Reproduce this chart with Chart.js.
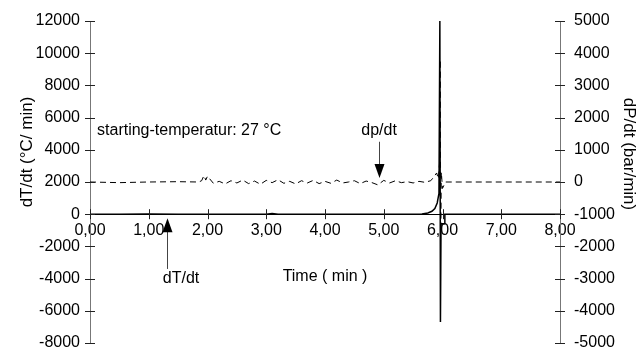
<!DOCTYPE html>
<html lang="de">
<head>
  <meta charset="UTF-8" />
  <title>dT/dt und dP/dt</title>
  <script src="https://cdn.jsdelivr.net/npm/chart.js"></script>
  <style>
    body { margin: 0; background: #fff; }
    canvas { display: block; }
  </style>
</head>
<body>
  <canvas id="chart" width="639" height="347"></canvas>

  <script>
    // Zeitachse in Minuten
    const timeT = [0, 0.5, 1.0, 1.5, 2.0, 2.5, 3.0, 3.1, 3.2, 3.5, 4.0, 4.5, 5.0, 5.5, 5.65, 5.75, 5.82, 5.87, 5.91, 5.94, 5.955, 5.965, 5.975, 5.985, 6.03, 6.04, 6.5, 7.0, 8.0];
    const dTdt  = [0, 0, 20, 0, 0, 0, 0, 50, 0, 0, 0, 0, 0, 0, 20, 80, 180, 350, 700, 1300, 12000, -6700, -600, -600, -600, 0, 0, 0, 0];

    const timeP = [0, 0.5, 1.0, 1.5, 1.85, 1.9, 1.94, 1.97, 2.0, 2.1, 2.2, 2.3, 2.4, 2.5, 2.6, 2.7, 2.8, 2.9, 3.0, 3.1, 3.2, 3.3, 3.4, 3.5, 3.6, 3.7, 3.8, 3.9, 4.0, 4.1, 4.2, 4.3, 4.4, 4.5, 4.6, 4.7, 4.8, 4.9, 5.0, 5.1, 5.2, 5.3, 5.4, 5.5, 5.6, 5.7, 5.8, 5.85, 5.9, 5.93, 5.95, 5.96, 5.97, 5.98, 6.0, 6.05, 6.2, 7.0, 8.0];
    const dPdt  = [0, -20, 0, 10, 0, 40, 200, 60, 180, -40, 20, -60, 40, -30, 60, -50, 30, -70, 50, -20, 70, -40, 20, -60, 40, -30, 50, -50, 20, -40, 60, -30, 0, 40, -50, 30, -20, -90, 50, -30, 40, -20, 10, -30, 20, -10, 40, 150, 280, 100, 600, 3800, -1500, 300, -200, 0, 0, 0, 0];

    const xTicks  = [0, 1, 2, 3, 4, 5, 6, 7, 8];
    const yTicks  = [-8000, -6000, -4000, -2000, 0, 2000, 4000, 6000, 8000, 10000, 12000];
    const y2Ticks = [-5000, -4000, -3000, -2000, -1000, 0, 1000, 2000, 3000, 4000, 5000];

    // Beschriftungen im Diagramm (Position in Datenkoordinaten)
    const notes = [
      { text: 'starting-temperatur: 27 °C', x: 0.12, y: 5200, align: 'left' },
      { text: 'dp/dt', x: 4.92, y: 5200, align: 'center' },
      { text: 'dT/dt', x: 1.55, y: -4000, align: 'center' },
      { text: 'Time ( min )', x: 4.0, y: -3900, align: 'center' }
    ];
    const arrows = [
      { x: 4.92, from: 4500, to: 2250 },   // nach unten auf dp/dt
      { x: 1.31, from: -3400, to: -250 }   // nach oben auf dT/dt
    ];

    const FONT = "'Liberation Sans', Arial, sans-serif";

    const fmtX = v => v.toFixed(2).replace('.', ',');

    const extras = {
      id: 'extras',
      afterDraw(chart) {
        const c = chart.ctx;
        const sx = chart.scales.x, sy = chart.scales.y, sy2 = chart.scales.y2;
        c.save();
        c.strokeStyle = '#222';
        c.lineWidth = 1;
        // kreuzende Teilstriche
        c.beginPath();
        sy.ticks.forEach((t, i) => {
          const p = Math.round(sy.getPixelForTick(i)) + 0.5;
          c.moveTo(sy.right - 5, p); c.lineTo(sy.right + 5, p);
        });
        sy2.ticks.forEach((t, i) => {
          const p = Math.round(sy2.getPixelForTick(i)) + 0.5;
          c.moveTo(sy2.left - 5, p); c.lineTo(sy2.left + 5, p);
        });
        const y0 = sy.getPixelForValue(0);
        sx.ticks.forEach((t, i) => {
          const p = Math.round(sx.getPixelForTick(i)) + 0.5;
          c.moveTo(p, y0 - 5); c.lineTo(p, y0 + 5);
        });
        c.stroke();

        // Texte
        c.fillStyle = '#000';
        c.font = '16px ' + FONT;
        c.textBaseline = 'middle';
        notes.forEach(n => {
          c.textAlign = n.align;
          c.fillText(n.text, sx.getPixelForValue(n.x), sy.getPixelForValue(n.y));
        });

        // Pfeile
        arrows.forEach(a => {
          const px = Math.round(sx.getPixelForValue(a.x)) + 0.5;
          const p1 = sy.getPixelForValue(a.from), p2 = sy.getPixelForValue(a.to);
          const dir = p2 > p1 ? 1 : -1;
          c.strokeStyle = '#444';
          c.beginPath(); c.moveTo(px, p1); c.lineTo(px, p2 - dir * 12); c.stroke();
          c.fillStyle = '#000';
          c.beginPath();
          c.moveTo(px, p2);
          c.lineTo(px - 5, p2 - dir * 14);
          c.lineTo(px + 5, p2 - dir * 14);
          c.closePath(); c.fill();
        });

        // Achsentitel
        c.fillStyle = '#000';
        c.font = '17px ' + FONT;
        c.textAlign = 'center';
        c.save();
        c.translate(27, 152);
        c.rotate(-Math.PI / 2);
        c.fillText('dT/dt (°C/ min)', 0, 0);
        c.restore();
        c.save();
        c.translate(629, 154);
        c.rotate(Math.PI / 2);
        c.fillText('dP/dt (bar/min)', 0, 0);
        c.restore();
        c.restore();
      }
    };

    const noPad = s => { s.paddingTop = 0; s.paddingBottom = 0; s.paddingLeft = 0; s.paddingRight = 0; };

    new Chart(document.getElementById('chart'), {
      type: 'line',
      data: {
        datasets: [
          {
            label: 'dT/dt',
            data: timeT.map((t, i) => ({ x: t, y: dTdt[i] })),
            yAxisID: 'y',
            borderColor: '#000',
            borderWidth: 1.5,
            pointRadius: 0,
            tension: 0
          },
          {
            label: 'dP/dt',
            data: timeP.map((t, i) => ({ x: t, y: dPdt[i] })),
            yAxisID: 'y2',
            borderColor: '#000',
            borderWidth: 1,
            borderDash: [6, 4],
            pointRadius: 0,
            tension: 0
          }
        ]
      },
      options: {
        responsive: false,
        animation: false,
        layout: { padding: { top: 21, bottom: 4, left: 0, right: 0 } },
        plugins: { legend: { display: false }, tooltip: { enabled: false } },
        scales: {
          x: {
            type: 'linear',
            position: { y: 0 },
            min: 0, max: 8,
            afterBuildTicks: s => { s.ticks = xTicks.map(v => ({ value: v })); },
            afterFit: noPad,
            grid: { drawOnChartArea: false, drawTicks: false },
            border: { color: '#000', width: 1 },
            ticks: {
              padding: 7,
              maxRotation: 0,
              autoSkip: false,
              color: '#000',
              font: { family: FONT, size: 16 },
              callback: v => fmtX(v)
            }
          },
          y: {
            position: 'left',
            min: -8000, max: 12000,
            afterBuildTicks: s => { s.ticks = yTicks.map(v => ({ value: v })); },
            afterFit: s => { noPad(s); s.width = 90; },
            grid: { drawOnChartArea: false, drawTicks: false },
            border: { color: '#777', width: 1 },
            ticks: { padding: 10, color: '#000', font: { family: FONT, size: 16 }, callback: v => String(v) }
          },
          y2: {
            position: 'right',
            min: -5000, max: 5000,
            afterBuildTicks: s => { s.ticks = y2Ticks.map(v => ({ value: v })); },
            afterFit: s => { noPad(s); s.width = 79; },
            grid: { drawOnChartArea: false, drawTicks: false },
            border: { color: '#777', width: 1 },
            ticks: { padding: 14, color: '#000', font: { family: FONT, size: 16 }, callback: v => String(v) }
          }
        }
      },
      plugins: [extras]
    });
  </script>
</body>
</html>
